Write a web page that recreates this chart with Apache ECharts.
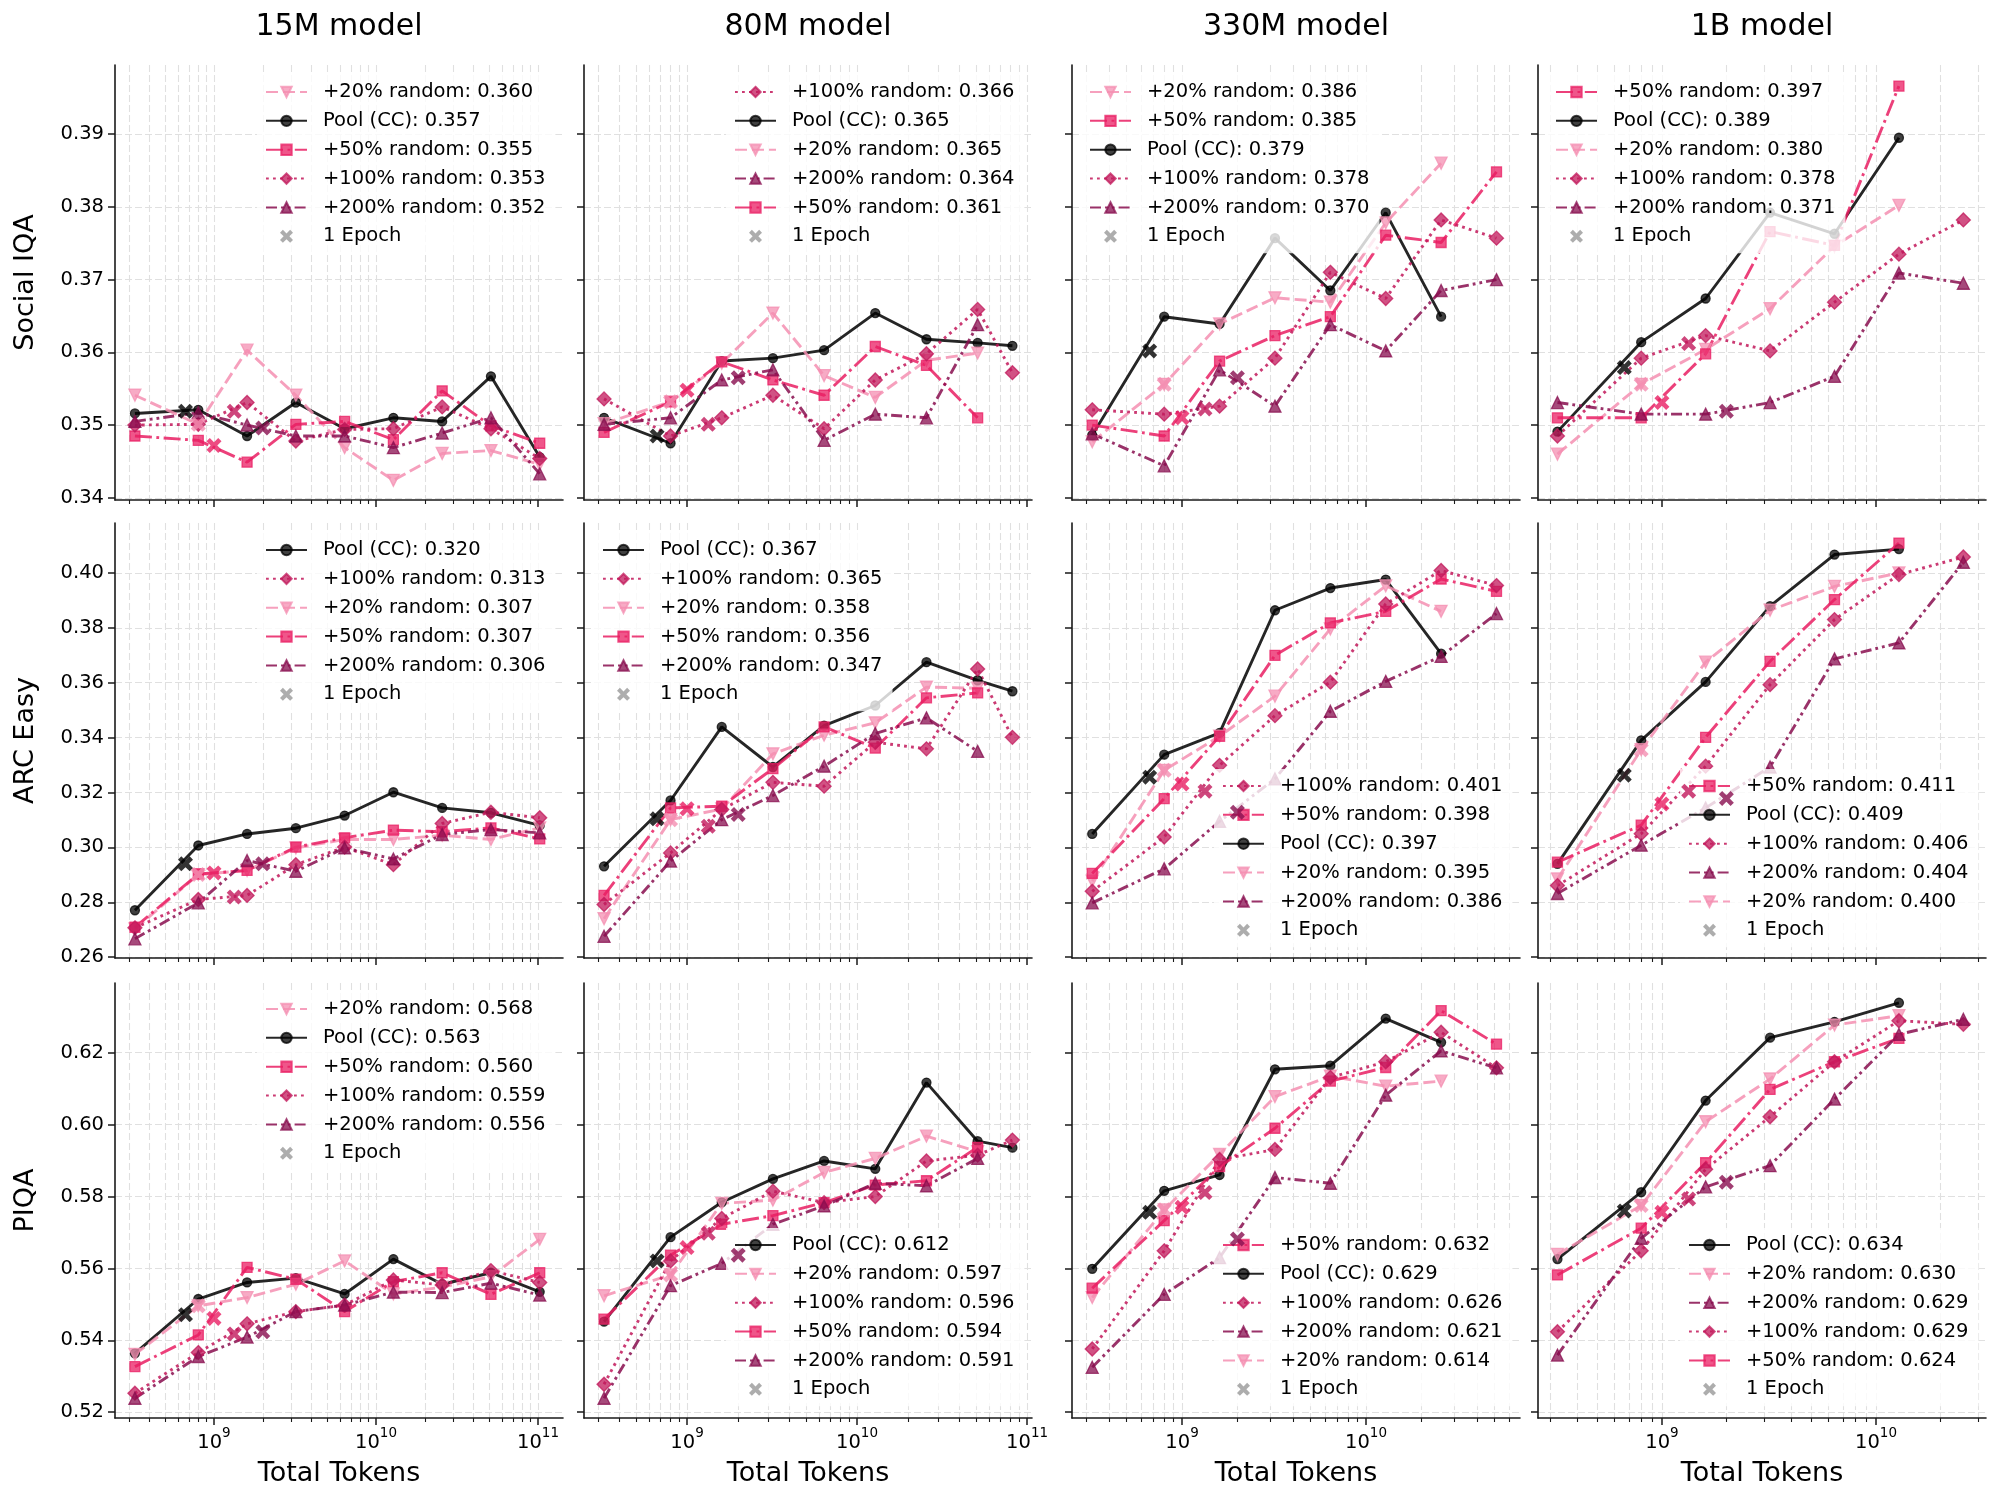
<!DOCTYPE html>
<html><head><meta charset="utf-8">
<script src="https://cdn.jsdelivr.net/npm/echarts@6/dist/echarts.min.js"></script>
<style>html,body{margin:0;padding:0;background:#fff}#c{width:2000px;height:1505px}</style>
</head><body><div id="c"></div>
<script>
// ---------------- DATA ----------------
const models = ['15M model', '80M model', '330M model', '1B model'];
const benchmarks = ['Social IQA', 'ARC Easy', 'PIQA'];
const siqaTicks = [0.34, 0.35, 0.36, 0.37, 0.38, 0.39];
const arcTicks = [0.26, 0.28, 0.30, 0.32, 0.34, 0.36, 0.38, 0.40];
const piqaTicks = [0.52, 0.54, 0.56, 0.58, 0.60, 0.62];
const decadeExponents = [8, 9, 10, 11];
const seriesKeys = ['pool', 'r20', 'r50', 'r100', 'r200'];
const seriesLabels = ['Pool (CC)', '+20% random', '+50% random', '+100% random', '+200% random'];
const epochLabel = '1 Epoch';

const tokens15M = [3.25e8, 8e8, 1.6e9, 3.2e9, 6.4e9, 1.28e10, 2.56e10, 5.12e10, 1.024e11];
const tokens80M = [3.25e8, 8e8, 1.6e9, 3.2e9, 6.4e9, 1.28e10, 2.56e10, 5.12e10, 8.2e10];
const tokens330M = [3.25e8, 8e8, 1.6e9, 3.2e9, 6.4e9, 1.28e10, 2.56e10, 5.12e10];
const tokens1B = [3.25e8, 8e8, 1.6e9, 3.2e9, 6.4e9, 1.28e10, 2.56e10];
const epochTokens = [6.67e8, 8e8, 1e9, 1.333e9, 2e9]; // pool, +20%, +50%, +100%, +200%

// Social IQA
const siqa15M_pool = [0.3516, 0.3521, 0.3485, 0.3531, 0.3495, 0.3510, 0.3505, 0.3567, 0.3456];
const siqa15M_r20 = [0.3541, 0.3501, 0.3603, 0.3541, 0.3469, 0.3424, 0.3461, 0.3465, 0.3446];
const siqa15M_r50 = [0.3485, 0.3479, 0.3449, 0.3501, 0.3505, 0.3480, 0.3547, 0.3499, 0.3475];
const siqa15M_r100 = [0.3500, 0.3501, 0.3531, 0.3478, 0.3494, 0.3495, 0.3525, 0.3495, 0.3454];
const siqa15M_r200 = [0.3505, 0.3517, 0.3500, 0.3485, 0.3485, 0.3469, 0.3489, 0.3510, 0.3433];
const siqa15M_epoch = [0.3519, 0.3501, 0.3472, 0.3519, 0.3496];
const siqa15M_legend = ['r20', 'pool', 'r50', 'r100', 'r200'];
const siqa15M_scores = [0.360, 0.357, 0.355, 0.353, 0.352];

const siqa80M_pool = [0.3510, 0.3475, 0.3588, 0.3592, 0.3603, 0.3654, 0.3618, 0.3613, 0.3609];
const siqa80M_r20 = [0.3502, 0.3532, 0.3585, 0.3654, 0.3568, 0.3538, 0.3589, 0.3599];
const siqa80M_r50 = [0.3490, 0.3532, 0.3587, 0.3562, 0.3541, 0.3608, 0.3582, 0.3510];
const siqa80M_r100 = [0.3536, 0.3485, 0.3510, 0.3541, 0.3495, 0.3562, 0.3598, 0.3659, 0.3572];
const siqa80M_r200 = [0.3501, 0.3510, 0.3562, 0.3576, 0.3479, 0.3515, 0.3510, 0.3638];
const siqa80M_epoch = [0.3485, 0.3532, 0.3548, 0.3501, 0.3565];
const siqa80M_legend = ['r100', 'pool', 'r20', 'r200', 'r50'];
const siqa80M_scores = [0.366, 0.365, 0.365, 0.364, 0.361];

const siqa330M_pool = [0.3486, 0.3649, 0.3639, 0.3757, 0.3685, 0.3792, 0.3649];
const siqa330M_r20 = [0.3477, 0.3556, 0.3639, 0.3675, 0.3669, 0.3778, 0.3860];
const siqa330M_r50 = [0.3500, 0.3485, 0.3588, 0.3623, 0.3649, 0.3761, 0.3751, 0.3848];
const siqa330M_r100 = [0.3521, 0.3515, 0.3526, 0.3592, 0.3710, 0.3674, 0.3782, 0.3757];
const siqa330M_r200 = [0.3488, 0.3444, 0.3576, 0.3526, 0.3638, 0.3602, 0.3685, 0.3700];
const siqa330M_epoch = [0.3602, 0.3556, 0.3510, 0.3522, 0.3565];
const siqa330M_legend = ['r20', 'r50', 'pool', 'r100', 'r200'];
const siqa330M_scores = [0.386, 0.385, 0.379, 0.378, 0.370];

const siqa1B_pool = [0.3491, 0.3614, 0.3674, 0.3792, 0.3763, 0.3895];
const siqa1B_r20 = [0.3460, 0.3556, 0.3604, 0.3660, 0.3746, 0.3802];
const siqa1B_r50 = [0.3510, 0.3510, 0.3598, 0.3766, 0.3747, 0.3966];
const siqa1B_r100 = [0.3485, 0.3592, 0.3623, 0.3602, 0.3669, 0.3735, 0.3782];
const siqa1B_r200 = [0.3531, 0.3515, 0.3515, 0.3531, 0.3567, 0.3709, 0.3695];
const siqa1B_epoch = [0.3579, 0.3556, 0.3531, 0.3612, 0.3519];
const siqa1B_legend = ['r50', 'pool', 'r20', 'r100', 'r200'];
const siqa1B_scores = [0.397, 0.389, 0.380, 0.378, 0.371];

// ARC Easy
const arc15M_pool = [0.2771, 0.3007, 0.3049, 0.3070, 0.3116, 0.3201, 0.3144, 0.3126, 0.3080];
const arc15M_r20 = [0.2703, 0.2901, 0.2916, 0.2998, 0.3029, 0.3029, 0.3044, 0.3029, 0.3071];
const arc15M_r50 = [0.2709, 0.2903, 0.2916, 0.3001, 0.3035, 0.3063, 0.3057, 0.3071, 0.3031];
const arc15M_r100 = [0.2707, 0.2810, 0.2825, 0.2937, 0.3001, 0.2937, 0.3087, 0.3128, 0.3108];
const arc15M_r200 = [0.2667, 0.2798, 0.2952, 0.2913, 0.2998, 0.2958, 0.3047, 0.3065, 0.3053];
const arc15M_epoch = [0.2940, 0.2901, 0.2907, 0.2819, 0.2940];
const arc15M_legend = ['pool', 'r100', 'r20', 'r50', 'r200'];
const arc15M_scores = [0.320, 0.313, 0.307, 0.307, 0.306];

const arc80M_pool = [0.2931, 0.3171, 0.3439, 0.3293, 0.3444, 0.3517, 0.3675, 0.3609, 0.3569];
const arc80M_r20 = [0.2740, 0.3101, 0.3140, 0.3341, 0.3409, 0.3454, 0.3584, 0.3580];
const arc80M_r50 = [0.2825, 0.3144, 0.3150, 0.3287, 0.3439, 0.3362, 0.3545, 0.3563];
const arc80M_r100 = [0.2792, 0.2980, 0.3138, 0.3237, 0.3223, 0.3383, 0.3359, 0.3650, 0.3401];
const arc80M_r200 = [0.2676, 0.2950, 0.3101, 0.3189, 0.3296, 0.3415, 0.3472, 0.3350];
const arc80M_epoch = [0.3104, 0.3101, 0.3141, 0.3077, 0.3120];
const arc80M_legend = ['pool', 'r100', 'r20', 'r50', 'r200'];
const arc80M_scores = [0.367, 0.365, 0.358, 0.356, 0.347];

const arc330M_pool = [0.3049, 0.3338, 0.3417, 0.3864, 0.3945, 0.3976, 0.3706];
const arc330M_r20 = [0.2877, 0.3281, 0.3405, 0.3551, 0.3796, 0.3953, 0.3860];
const arc330M_r50 = [0.2905, 0.3178, 0.3405, 0.3700, 0.3818, 0.3860, 0.3978, 0.3933];
const arc330M_r100 = [0.2840, 0.3038, 0.3299, 0.3480, 0.3602, 0.3887, 0.4009, 0.3954];
const arc330M_r200 = [0.2798, 0.2922, 0.3095, 0.3250, 0.3496, 0.3605, 0.3696, 0.3852];
const arc330M_epoch = [0.3256, 0.3281, 0.3231, 0.3205, 0.3128];
const arc330M_legend = ['r100', 'r50', 'pool', 'r20', 'r200'];
const arc330M_scores = [0.401, 0.398, 0.397, 0.395, 0.386];

const arc1B_pool = [0.2940, 0.3390, 0.3603, 0.3879, 0.4067, 0.4087];
const arc1B_r20 = [0.2885, 0.3356, 0.3675, 0.3864, 0.3951, 0.4000];
const arc1B_r50 = [0.2946, 0.3081, 0.3401, 0.3678, 0.3903, 0.4109];
const arc1B_r100 = [0.2861, 0.3050, 0.3296, 0.3593, 0.3830, 0.3994, 0.4058];
const arc1B_r200 = [0.2832, 0.3008, 0.3144, 0.3293, 0.3687, 0.3745, 0.4039];
const arc1B_epoch = [0.3263, 0.3356, 0.3158, 0.3205, 0.3178];
const arc1B_legend = ['r50', 'pool', 'r100', 'r200', 'r20'];
const arc1B_scores = [0.411, 0.409, 0.406, 0.404, 0.400];

// PIQA
const piqa15M_pool = [0.5364, 0.5515, 0.5561, 0.5573, 0.5529, 0.5626, 0.5556, 0.5588, 0.5535];
const piqa15M_r20 = [0.5361, 0.5496, 0.5519, 0.5556, 0.5621, 0.5529, 0.5548, 0.5577, 0.5681];
const piqa15M_r50 = [0.5327, 0.5415, 0.5603, 0.5570, 0.5480, 0.5563, 0.5588, 0.5528, 0.5588];
const piqa15M_r100 = [0.5253, 0.5366, 0.5446, 0.5480, 0.5498, 0.5568, 0.5554, 0.5594, 0.5561];
const piqa15M_r200 = [0.5239, 0.5355, 0.5409, 0.5480, 0.5498, 0.5534, 0.5533, 0.5559, 0.5526];
const piqa15M_epoch = [0.5471, 0.5496, 0.5461, 0.5418, 0.5424];
const piqa15M_legend = ['r20', 'pool', 'r50', 'r100', 'r200'];
const piqa15M_scores = [0.568, 0.563, 0.560, 0.559, 0.556];

const piqa80M_pool = [0.5452, 0.5687, 0.5784, 0.5849, 0.5899, 0.5877, 0.6117, 0.5954, 0.5936];
const piqa80M_r20 = [0.5524, 0.5582, 0.5781, 0.5790, 0.5867, 0.5906, 0.5968, 0.5925];
const piqa80M_r50 = [0.5459, 0.5637, 0.5723, 0.5747, 0.5783, 0.5832, 0.5844, 0.5937];
const piqa80M_r100 = [0.5278, 0.5621, 0.5739, 0.5815, 0.5783, 0.5800, 0.5899, 0.5915, 0.5957];
const piqa80M_r200 = [0.5239, 0.5552, 0.5614, 0.5723, 0.5774, 0.5837, 0.5830, 0.5906];
const piqa80M_epoch = [0.5621, 0.5582, 0.5658, 0.5698, 0.5637];
const piqa80M_legend = ['pool', 'r20', 'r100', 'r50', 'r200'];
const piqa80M_scores = [0.612, 0.597, 0.596, 0.594, 0.591];

const piqa330M_pool = [0.5599, 0.5816, 0.5860, 0.6154, 0.6164, 0.6295, 0.6229];
const piqa330M_r20 = [0.5519, 0.5763, 0.5917, 0.6078, 0.6135, 0.6107, 0.6121];
const piqa330M_r50 = [0.5545, 0.5733, 0.5883, 0.5990, 0.6121, 0.6159, 0.6317, 0.6224];
const piqa330M_r100 = [0.5376, 0.5649, 0.5903, 0.5931, 0.6131, 0.6175, 0.6257, 0.6158];
const piqa330M_r200 = [0.5325, 0.5528, 0.5630, 0.5853, 0.5837, 0.6082, 0.6205, 0.6158];
const piqa330M_epoch = [0.5756, 0.5763, 0.5770, 0.5811, 0.5682];
const piqa330M_legend = ['r50', 'pool', 'r100', 'r200', 'r20'];
const piqa330M_scores = [0.632, 0.629, 0.626, 0.621, 0.614];

const piqa1B_pool = [0.5626, 0.5812, 0.6067, 0.6242, 0.6286, 0.6339];
const piqa1B_r20 = [0.5639, 0.5775, 0.6008, 0.6127, 0.6277, 0.6303];
const piqa1B_r50 = [0.5582, 0.5712, 0.5894, 0.6098, 0.6175, 0.6240];
const piqa1B_r100 = [0.5424, 0.5649, 0.5876, 0.6022, 0.6175, 0.6289, 0.6279];
const piqa1B_r200 = [0.5359, 0.5684, 0.5827, 0.5886, 0.6071, 0.6251, 0.6293];
const piqa1B_epoch = [0.5760, 0.5775, 0.5756, 0.5793, 0.5840];
const piqa1B_legend = ['pool', 'r20', 'r200', 'r100', 'r50'];
const piqa1B_scores = [0.634, 0.630, 0.629, 0.629, 0.624];

// ---------------- BUILD ----------------
function panel(tokens, pool, r20, r50, r100, r200, epoch, legend, scores) {
  return { tokens, pool, r20, r50, r100, r200, epoch, legend, scores };
}
const panels = [
  [panel(tokens15M, siqa15M_pool, siqa15M_r20, siqa15M_r50, siqa15M_r100, siqa15M_r200, siqa15M_epoch, siqa15M_legend, siqa15M_scores),
   panel(tokens80M, siqa80M_pool, siqa80M_r20, siqa80M_r50, siqa80M_r100, siqa80M_r200, siqa80M_epoch, siqa80M_legend, siqa80M_scores),
   panel(tokens330M, siqa330M_pool, siqa330M_r20, siqa330M_r50, siqa330M_r100, siqa330M_r200, siqa330M_epoch, siqa330M_legend, siqa330M_scores),
   panel(tokens1B, siqa1B_pool, siqa1B_r20, siqa1B_r50, siqa1B_r100, siqa1B_r200, siqa1B_epoch, siqa1B_legend, siqa1B_scores)],
  [panel(tokens15M, arc15M_pool, arc15M_r20, arc15M_r50, arc15M_r100, arc15M_r200, arc15M_epoch, arc15M_legend, arc15M_scores),
   panel(tokens80M, arc80M_pool, arc80M_r20, arc80M_r50, arc80M_r100, arc80M_r200, arc80M_epoch, arc80M_legend, arc80M_scores),
   panel(tokens330M, arc330M_pool, arc330M_r20, arc330M_r50, arc330M_r100, arc330M_r200, arc330M_epoch, arc330M_legend, arc330M_scores),
   panel(tokens1B, arc1B_pool, arc1B_r20, arc1B_r50, arc1B_r100, arc1B_r200, arc1B_epoch, arc1B_legend, arc1B_scores)],
  [panel(tokens15M, piqa15M_pool, piqa15M_r20, piqa15M_r50, piqa15M_r100, piqa15M_r200, piqa15M_epoch, piqa15M_legend, piqa15M_scores),
   panel(tokens80M, piqa80M_pool, piqa80M_r20, piqa80M_r50, piqa80M_r100, piqa80M_r200, piqa80M_epoch, piqa80M_legend, piqa80M_scores),
   panel(tokens330M, piqa330M_pool, piqa330M_r20, piqa330M_r50, piqa330M_r100, piqa330M_r200, piqa330M_epoch, piqa330M_legend, piqa330M_scores),
   panel(tokens1B, piqa1B_pool, piqa1B_r20, piqa1B_r50, piqa1B_r100, piqa1B_r200, piqa1B_epoch, piqa1B_legend, piqa1B_scores)]
];
const rowTicks = [siqaTicks, arcTicks, piqaTicks];

// layout / style
const FONT = "'DejaVu Sans', sans-serif";
const GRID_LEFT = [115, 584, 1072, 1538], GRID_W = 448;
const GRID_TOP = [65, 523, 983], GRID_H = 435;
const X_RANGE = [[8.389, 11.154], [8.394, 11.029], [8.402, 10.837], [8.421, 10.514]];
const Y_RANGE = [[0.3397, 0.3995], [0.2597, 0.4182], [0.5184, 0.6394]];
const LEGEND_POS = [
  [[265, 92], [734, 92], [1089, 92], [1555, 92]],
  [[265, 550], [602, 550], [1222, 786], [1688, 786]],
  [[265, 1009], [734, 1245], [1222, 1245], [1688, 1245]]
];
const SERIES_STYLE = {
  pool: { color: '#000000', symbol: 'circle', size: 9, rotate: 0, dash: 'solid' },
  r20: { color: '#f48fb1', symbol: 'triangle', size: 12, rotate: 180, dash: [12, 5] },
  r50: { color: '#e91e63', symbol: 'rect', size: 10, rotate: 0, dash: [17, 4.5, 2.8, 4.5] },
  r100: { color: '#c2185b', symbol: 'diamond', size: 14, rotate: 0, dash: [2.8, 4.2] },
  r200: { color: '#880e4f', symbol: 'triangle', size: 12, rotate: 0, dash: [11, 4, 2.8, 4, 2.8, 4] }
};
const EPOCH_COLORS = ['#000000', '#f48fb1', '#e91e63', '#c2185b', '#880e4f'];
const XPATH = 'path://M0,2.2L2.2,0L5,2.8L7.8,0L10,2.2L7.2,5L10,7.8L7.8,10L5,7.2L2.2,10L0,7.8L2.8,5Z';
const AXIS_COLOR = '#1a1a1a';
const GRID_LINE = { color: '#e0e0e0', width: 1.1, type: [7, 3] };

function minorTicks(lo, hi) {
  const a = [];
  for (let n = Math.floor(lo); n <= Math.ceil(hi); n++)
    for (let k = 2; k <= 9; k++) { const v = n + Math.log10(k); if (v > lo && v < hi) a.push(v); }
  return a;
}

const option = {
  animation: false, backgroundColor: '#ffffff', textStyle: { fontFamily: FONT },
  title: [], grid: [], xAxis: [], yAxis: [], legend: [], series: []
};

models.forEach((m, c) => {
  option.title.push({
    text: m, left: GRID_LEFT[c] + GRID_W / 2, top: 12, textAlign: 'center', padding: 0,
    textStyle: { fontFamily: FONT, fontSize: 30, fontWeight: 'normal', color: '#000' }
  });
});

// dummy legend entry for "1 Epoch"
option.series.push({
  type: 'scatter', name: epochLabel, data: [], xAxisIndex: 0, yAxisIndex: 0,
  symbol: XPATH, symbolSize: 14, itemStyle: { color: '#999999' }
});

for (let r = 0; r < 3; r++) {
  for (let c = 0; c < 4; c++) {
    const g = r * 4 + c;
    const P = panels[r][c];
    const [lo, hi] = X_RANGE[c];
    const majors = decadeExponents.filter(v => v >= lo && v <= hi);
    option.grid.push({ left: GRID_LEFT[c], top: GRID_TOP[r], width: GRID_W, height: GRID_H, containLabel: false });
    option.xAxis.push({
      type: 'value', gridIndex: g, min: lo, max: hi, position: 'bottom',
      axisLine: { show: true, onZero: false, lineStyle: { color: AXIS_COLOR, width: 1.6 } },
      axisTick: { show: true, customValues: majors, length: 7, lineStyle: { color: AXIS_COLOR, width: 1.5 } },
      axisLabel: {
        show: r === 2, customValues: majors, margin: 8,
        formatter: v => '{b|10}{s|' + Math.round(v) + '}',
        rich: {
          b: { fontFamily: FONT, fontSize: 19.5, color: '#000', verticalAlign: 'bottom' },
          s: { fontFamily: FONT, fontSize: 13.5, color: '#000', verticalAlign: 'top', padding: [0, 0, 13, 0] }
        }
      },
      splitLine: { show: true, lineStyle: GRID_LINE },
      name: r === 2 ? 'Total Tokens' : '', nameLocation: 'middle', nameGap: 42,
      nameTextStyle: { fontFamily: FONT, fontSize: 27, color: '#000' }
    });
    option.xAxis.push({
      type: 'value', gridIndex: g, min: lo, max: hi, position: 'bottom',
      axisLine: { show: false, onZero: false },
      axisTick: { show: true, customValues: minorTicks(lo, hi), length: 4, lineStyle: { color: AXIS_COLOR, width: 1.1 } },
      axisLabel: { show: false },
      splitLine: { show: true, lineStyle: GRID_LINE }
    });
    option.yAxis.push({
      type: 'value', gridIndex: g, min: Y_RANGE[r][0], max: Y_RANGE[r][1], position: 'left',
      axisLine: { show: true, onZero: false, lineStyle: { color: AXIS_COLOR, width: 1.6 } },
      axisTick: { show: true, customValues: rowTicks[r], length: 7, lineStyle: { color: AXIS_COLOR, width: 1.5 } },
      axisLabel: {
        show: c === 0, customValues: rowTicks[r], margin: 11, formatter: v => v.toFixed(2),
        fontFamily: FONT, fontSize: 19.5, color: '#000'
      },
      splitLine: { show: true, lineStyle: GRID_LINE },
      name: c === 0 ? benchmarks[r] : '', nameLocation: 'middle', nameGap: 76,
      nameTextStyle: { fontFamily: FONT, fontSize: 27, color: '#000' }
    });

    const nameOf = k => {
      const idx = P.legend.indexOf(k);
      return seriesLabels[seriesKeys.indexOf(k)] + ': ' + P.scores[idx].toFixed(3);
    };
    seriesKeys.forEach(k => {
      const st = SERIES_STYLE[k];
      const vals = P[k];
      option.series.push({
        type: 'line', name: nameOf(k), xAxisIndex: 2 * g, yAxisIndex: g,
        data: vals.map((v, i) => [Math.log10(P.tokens[i]), v]),
        symbol: st.symbol, symbolSize: st.size, symbolRotate: st.rotate, showSymbol: true,
        lineStyle: { color: st.color, width: 2.9, type: st.dash, opacity: 0.85 },
        itemStyle: { color: st.color, borderColor: st.color, borderWidth: 1.3, opacity: 0.75 },
        z: 2, silent: true, clip: false
      });
    });
    option.series.push({
      type: 'scatter', name: '__epoch_' + g, xAxisIndex: 2 * g, yAxisIndex: g,
      data: P.epoch.map((v, i) => ({ value: [Math.log10(epochTokens[i]), v], itemStyle: { color: EPOCH_COLORS[i] } })),
      symbol: XPATH, symbolSize: 15, z: 6, silent: true
    });

    const [lx, ly] = LEGEND_POS[r][c];
    option.legend.push({
      orient: 'vertical', left: lx - 8, top: ly - 10 - 7, padding: [7, 10, 7, 8],
      itemWidth: 41, itemHeight: 13, itemGap: 8.87,
      backgroundColor: 'rgba(255,255,255,0.8)', borderWidth: 0, selectedMode: false, z: 4,
      data: P.legend.map(nameOf).concat([epochLabel]),
      textStyle: { fontFamily: FONT, fontSize: 19.5, color: '#000', lineHeight: 20, padding: [0, 0, 0, 11] }
    });
  }
}

const chart = echarts.init(document.getElementById('c'), null, { renderer: 'canvas', width: 2000, height: 1505 });
chart.setOption(option);
</script></body></html>
